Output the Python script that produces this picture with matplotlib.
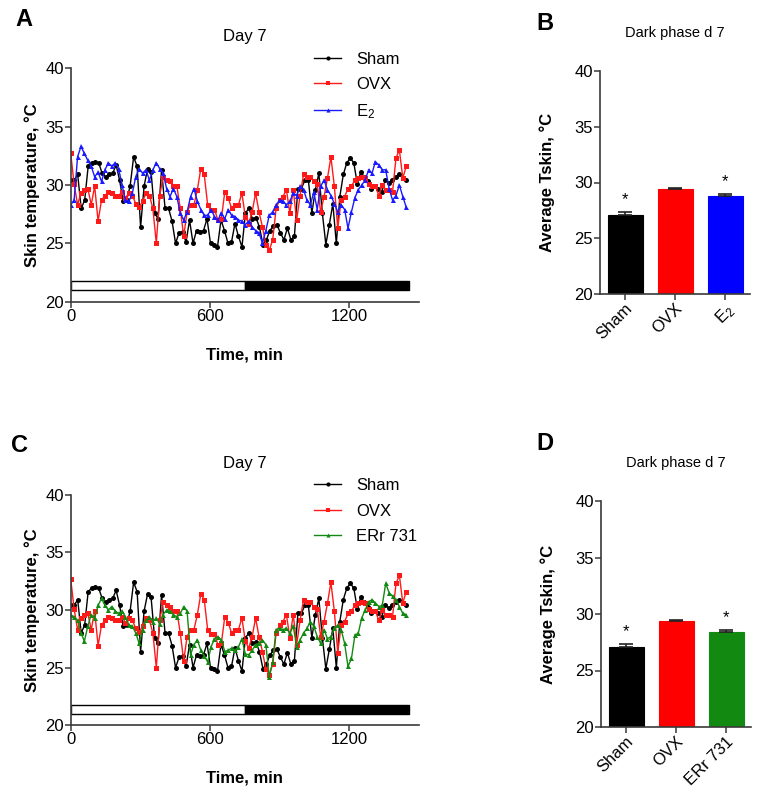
import numpy as np
import matplotlib
matplotlib.use('Agg')
import matplotlib.pyplot as plt

plt.rcParams['font.family'] = ['Liberation Sans', 'DejaVu Sans']
plt.rcParams['mathtext.fontset'] = 'custom'
plt.rcParams['mathtext.rm'] = 'Liberation Sans'
plt.rcParams['mathtext.bf'] = 'Liberation Sans:bold'
plt.rcParams['mathtext.default'] = 'regular'

###############################################################################
###                               DATA
###############################################################################
# skin temperature (deg C), one reading every ~15 min over 24 h
sham = [30.4, 30.4, 30.9, 28.0, 28.7, 31.6, 31.9, 32.0, 31.9,
        31.0, 30.7, 30.9, 31.0, 31.7, 30.4, 28.6, 28.7, 29.9, 32.4,
        31.6, 26.4, 29.9, 31.4, 31.1, 27.6, 27.1, 31.3, 28.0, 28.0,
        26.9, 25.0, 25.9, 26.0, 25.1, 27.0, 25.0, 26.1, 26.0,
        26.1, 27.1, 25.0, 24.9, 24.7, 27.0, 26.1, 25.0, 25.1, 26.7,
        25.6, 24.7, 27.6, 28.0, 27.1, 27.2, 26.4, 24.9, 25.3, 26.1,
        26.5, 26.6, 25.9, 25.3, 26.3, 25.3, 25.6, 29.7, 29.7, 30.4,
        30.4, 27.6, 29.6, 31.0, 27.6, 24.9, 26.6, 28.4, 25.0, 29.0,
        30.9, 31.9, 32.3, 31.9, 30.1, 31.1, 30.7, 30.3, 29.7, 29.9,
        29.7, 29.4, 30.4, 30.2, 30.4, 30.7, 30.9, 30.6, 30.4]
ovx = [32.7, 30.1, 28.3, 29.3, 29.6, 29.7, 28.3, 29.9, 26.9, 28.7,
       29.1, 29.4, 29.3, 29.1, 29.1, 29.4, 28.9, 29.3, 29.1, 28.4,
       28.1, 28.6, 29.3, 29.1, 28.0, 25.0, 29.1, 30.7, 30.4, 30.3,
       29.9, 29.9, 28.0, 25.6, 27.7, 28.3, 28.3, 29.6, 31.4, 30.9,
       28.3, 27.9, 27.9, 27.0, 27.1, 29.4, 28.9, 28.0, 28.3, 28.3,
       29.3, 27.3, 26.7, 27.7, 29.3, 27.7, 26.4, 24.9, 24.4, 25.3,
       28.0, 28.7, 29.0, 29.6, 27.6, 29.6, 27.0, 29.1, 30.9, 30.7,
       30.7, 30.3, 30.1, 27.7, 29.0, 30.6, 32.4, 29.9, 26.3, 28.7,
       29.0, 29.7, 29.9, 30.4, 30.6, 30.7, 30.6, 30.1, 29.9, 29.9,
       29.1, 30.0, 29.6, 29.6, 29.4, 32.3, 33.0, 30.6, 31.6]
e2 = [28.3, 28.7, 32.4, 33.3, 32.7, 32.1, 31.6, 30.7, 31.1, 30.3,
      31.3, 31.9, 31.6, 31.9, 31.4, 30.0, 28.7, 28.6, 29.3, 30.7,
      31.4, 31.0, 31.3, 30.4, 31.3, 31.9, 31.4, 31.0, 29.7, 29.0,
      29.7, 29.0, 27.6, 27.0, 27.7, 29.0, 29.7, 28.6, 27.9, 27.4,
      27.4, 27.9, 27.3, 27.0, 27.6, 27.1, 27.9, 27.4, 27.3,
      27.0, 26.9, 26.6, 26.9, 26.4, 26.1, 25.9, 25.0, 26.1, 27.4,
      27.7, 28.3, 28.7, 28.6, 28.3, 28.6, 29.3, 29.1, 29.9, 29.6,
      28.7, 28.3, 29.4, 27.9, 29.9, 30.4, 29.6, 29.1, 28.4, 27.7,
      28.3, 27.9, 26.3, 27.7, 28.9, 29.6, 30.0, 30.4, 31.3, 31.0,
      32.0, 31.7, 31.3, 31.3, 29.7, 28.7, 29.1, 30.0, 29.0, 28.1]
err731 = [29.6, 29.4, 29.1, 28.0, 27.3, 28.6, 29.6, 29.3, 30.4, 31.0,
          30.4, 30.0, 30.3, 29.9, 29.7, 29.9, 29.4, 28.7, 28.6, 28.0,
          27.1, 28.3, 29.1, 29.4, 29.0, 29.3, 28.8, 29.6, 30.0, 29.9,
          29.6, 29.4, 29.7, 30.3, 29.9, 26.1, 27.0, 27.4, 26.5, 26.0,
          25.5, 26.8, 27.5, 27.7, 27.4, 26.4, 26.5, 26.7, 26.5, 26.8,
          27.5, 26.2, 26.1, 26.5, 27.0, 27.1, 27.4, 27.0, 24.2,
          25.5, 28.3, 28.4, 28.3, 28.4, 28.0, 28.6, 26.8, 27.4,
          28.0, 28.4, 29.0, 28.6, 27.7, 27.1, 28.3, 27.5, 27.7, 28.4,
          28.7, 28.3, 27.1, 25.1, 25.8, 27.8, 28.0, 29.3, 30.0, 30.7,
          30.9, 30.6, 30.3, 30.4, 32.3, 31.5, 31.2, 30.9, 30.3, 29.7,
          29.6]

# light / dark phase bar (min)
light_start, light_end, dark_end = 0, 750, 1455

# dark phase averages
bar_groups_b = ['Sham', 'OVX', 'E$_2$']
bar_means_b = [27.1, 29.4, 28.8]
bar_sem_b = [0.22, 0.1, 0.15]
bar_groups_d = ['Sham', 'OVX', 'ERr 731']
bar_means_d = [27.1, 29.4, 28.4]
bar_sem_d = [0.22, 0.1, 0.15]
stars_b = [True, False, True]
stars_d = [True, False, True]

###############################################################################
###                               FIGURE
###############################################################################
W, H = 759, 794
fig = plt.figure(figsize=(W / 100, H / 100), dpi=100)
spine_col = '#3a3a3a'


def px_axes(x0, x1, ytop, ybot):
    return fig.add_axes([x0 / W, 1 - ybot / H, (x1 - x0) / W, (ybot - ytop) / H])


def style(ax):
    for s in ['top', 'right']:
        ax.spines[s].set_visible(False)
    for s in ['left', 'bottom']:
        ax.spines[s].set_color(spine_col)
        ax.spines[s].set_linewidth(1.2)
    ax.tick_params(direction='out', length=4, width=1.1, color=spine_col,
                   labelsize=12, pad=1)


def time_panel(ax, series, title):
    for vals, col, mk, lab in series:
        t = np.linspace(0, 1445, len(vals))
        ax.plot(t, vals, color=col, marker=mk, markersize=3.6, lw=1.0,
                label=lab, markeredgewidth=0)
    ax.broken_barh([(light_start, light_end - light_start)], (21.0, 0.8),
                   facecolor='white', edgecolor='black', lw=1)
    ax.broken_barh([(light_end, dark_end - light_end)], (21.0, 0.8),
                   facecolor='black', edgecolor='black', lw=1)
    ax.set_xlim(0, 1500)
    ax.set_ylim(20, 40)
    ax.set_xticks([0, 600, 1200])
    ax.set_yticks([20, 25, 30, 35, 40])
    style(ax)
    ax.set_xlabel('Time, min', fontsize=12, fontweight='bold', labelpad=17)
    ax.set_ylabel('Skin temperature, °C', fontsize=12, fontweight='bold',
                  labelpad=4)
    ax.text(0.5, 1.135, title, transform=ax.transAxes, ha='center',
            va='center', fontsize=12)
    leg = ax.legend(loc='upper left', bbox_to_anchor=(0.68, 1.10),
                    frameon=False, fontsize=12, handlelength=1.6,
                    labelspacing=0.62, handletextpad=0.9, borderaxespad=0)
    for h in leg.legend_handles:
        h.set_markersize(3)


def bar_panel(ax, groups, means, sems, colors, stars, title):
    x = np.arange(len(groups))
    ax.bar(x, means, width=0.7, bottom=0, color=colors, edgecolor=colors,
           lw=0.8, yerr=[np.zeros(len(sems)), sems], capsize=5,
           error_kw=dict(ecolor='#222', elinewidth=1.2, capthick=1.2))
    for xi, m, s, st in zip(x, means, sems, stars):
        if st:
            ax.text(xi, m + s + 1.15, '*', ha='center', va='center', fontsize=12)
    ax.set_xlim(-0.5, 2.5)
    ax.set_ylim(20, 40)
    ax.set_yticks([20, 25, 30, 35, 40])
    ax.set_xticks(x)
    ax.set_xticklabels(groups, rotation=45, ha='right', rotation_mode='anchor')
    style(ax)
    ax.set_ylabel('Average Tskin, °C', fontsize=12, fontweight='bold',
                  labelpad=14)
    ax.text(0.5, 1.17, title, transform=ax.transAxes, ha='center',
            va='center', fontsize=10.5)


# A
axA = px_axes(70.7, 419, 68.3, 301.7)
time_panel(axA, [(sham, 'black', 'o', 'Sham'), (ovx, '#ff1a1a', 's', 'OVX'),
                 (e2, '#1a1aff', '^', 'E$_2$')], 'Day 7')
# C
axC = px_axes(70.7, 419, 494.7, 725.3)
time_panel(axC, [(sham, 'black', 'o', 'Sham'), (ovx, '#ff1a1a', 's', 'OVX'),
                 (err731, '#128a12', '^', 'ERr 731')], 'Day 7')
# B
axB = px_axes(600, 750, 71, 294)
bar_panel(axB, bar_groups_b, bar_means_b, bar_sem_b,
          ['black', '#ff0000', '#0000ff'], stars_b, 'Dark phase d 7')
# D
axD = px_axes(601, 751, 501, 727)
bar_panel(axD, bar_groups_d, bar_means_d, bar_sem_d,
          ['black', '#ff0000', '#128a12'], stars_d, 'Dark phase d 7')

for lab, x, y in [('A', 24, 19), ('B', 545, 24), ('C', 20, 445), ('D', 545, 443)]:
    fig.text(x / W, 1 - y / H, lab, fontsize=17, fontweight='bold',
             ha='center', va='center')

fig.savefig('out.png', dpi=100)
